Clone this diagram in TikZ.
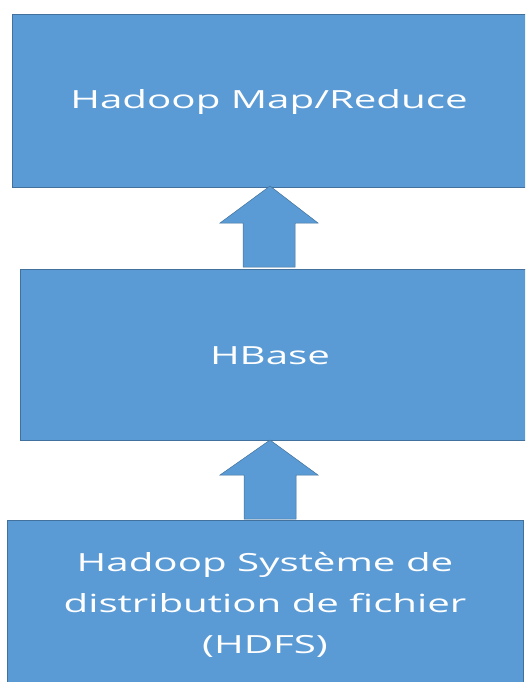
\documentclass[tikz,border=0pt]{standalone}
\usepackage{fontspec}
\setmainfont{Open Sans}
\definecolor{boxfill}{HTML}{5B9BD5}
\definecolor{boxline}{HTML}{41719C}
\begin{document}
\begin{tikzpicture}[x=1pt,y=-1pt,
  layer/.style={fill=boxfill,draw=boxline,line width=1pt},
  uparrow/.style={fill=boxfill,draw=boxline,line width=0.5pt,line join=miter},
  label/.style={text=white,font=\fontsize{25}{41}\selectfont,inner sep=0pt,align=center}]
\useasboundingbox (0,0) rectangle (525,682);
\clip (0,0) rectangle (525,682);

% the three layers of the stack
\draw[layer] (12,15) rectangle (540,187);
\draw[layer] (20,269) rectangle (540,440);
\draw[layer] (7,520) rectangle (523,700);

% layer labels (a multi-line node's base is its last line)
\node[label,anchor=base] (mr) at (269,109) {\scalebox{1.61}[1]{Hadoop Map/Reduce}};
\node[label,anchor=base] (hb) at (270,364) {\scalebox{1.61}[1]{HBase}};
\node[label,anchor=base] (hdfs) at (265,653) {\scalebox{1.61}[1]{Hadoop Système de}\\\scalebox{1.61}[1]{distribution de fichier}\\\scalebox{1.61}[1]{(HDFS)}};

% block arrows between the layers
\coordinate (t1) at (270,186);
\coordinate (t2) at (270,440);
\draw[uparrow] (t1) -- ++(48,37) -- ++(-23,0) -- ++(0,44) -- ++(-52,0) -- ++(0,-44) -- ++(-23,0) -- cycle;
\draw[uparrow] (t2) -- ++(48,35) -- ++(-22,0) -- ++(0,44) -- ++(-52,0) -- ++(0,-44) -- ++(-24,0) -- cycle;
\end{tikzpicture}
\end{document}
